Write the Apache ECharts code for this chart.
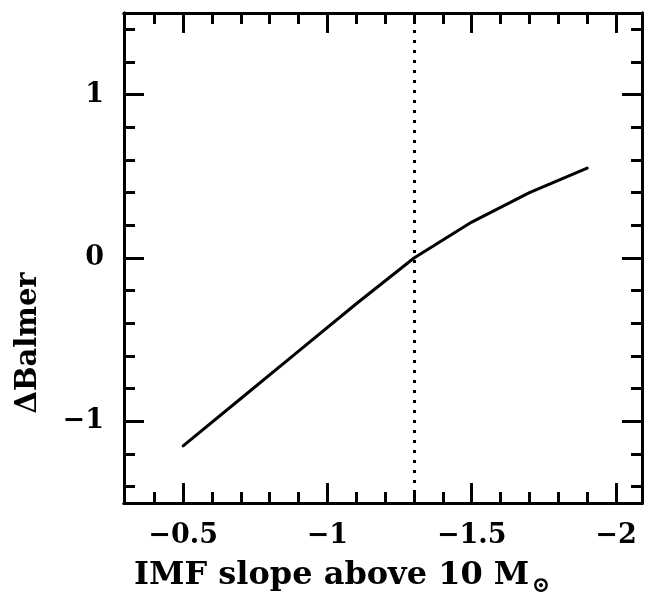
<!DOCTYPE html>
<html>
<head>
<meta charset="utf-8">
<script src="https://cdn.jsdelivr.net/npm/echarts@6/dist/echarts.min.js"></script>
<style>
  html, body { margin: 0; padding: 0; background: #fff; }
  #chart { width: 645px; height: 593px; }
</style>
</head>
<body>
<div id="chart"></div>
<script>
// IMF slope above 10 Msun vs. change in Balmer index
const imfSlope = [-0.5, -0.7, -0.9, -1.1, -1.3, -1.5, -1.7, -1.9];
const deltaBalmer = [-1.15, -0.86, -0.57, -0.28, 0.0, 0.22, 0.40, 0.55];

// reference slope (dotted vertical line)
const refSlope = -1.3;

// axis ranges and tick positions
const xRange = [-2.09, -0.295];
const yRange = [-1.5, 1.5];
const xMajorTicks = [-2, -1.5, -1, -0.5];
const xTickLabels = ['−2', '−1.5', '−1', '−0.5'];
const xMinorTicks = [-2.0, -1.9, -1.8, -1.7, -1.6, -1.5, -1.4, -1.3, -1.2, -1.1, -1.0, -0.9, -0.8, -0.7, -0.6, -0.5, -0.4];
const yMajorTicks = [-1, 0, 1];
const yTickLabels = ['−1', '0', '1'];
const yMinorTicks = [-1.4, -1.2, -1.0, -0.8, -0.6, -0.4, -0.2, 0, 0.2, 0.4, 0.6, 0.8, 1.0, 1.2, 1.4];

const FONT = 'DejaVu Serif';
const INK = '#000';

function labelFor(values, labels) {
  return function (v) {
    for (let i = 0; i < values.length; i++) {
      if (Math.abs(values[i] - v) < 1e-9) return labels[i];
    }
    return '';
  };
}

function xAxisDef(position, major, showLabel) {
  return {
    type: 'value', position: position, inverse: true,
    min: xRange[0], max: xRange[1],
    axisLine: { show: true, onZero: false, lineStyle: { color: INK, width: 3 } },
    axisTick: {
      show: true, inside: true, length: major ? 20 : 11,
      customValues: major ? xMajorTicks : xMinorTicks,
      lineStyle: { color: INK, width: 3 }
    },
    axisLabel: {
      show: showLabel, customValues: xMajorTicks,
      formatter: labelFor(xMajorTicks, xTickLabels),
      margin: 19, color: INK, fontFamily: FONT, fontWeight: 'bold', fontSize: 27
    },
    splitLine: { show: false }
  };
}

function yAxisDef(position, major, showLabel) {
  return {
    type: 'value', position: position,
    min: yRange[0], max: yRange[1],
    axisLine: { show: true, onZero: false, lineStyle: { color: INK, width: 3 } },
    axisTick: {
      show: true, inside: true, length: major ? 20 : 11,
      customValues: major ? yMajorTicks : yMinorTicks,
      lineStyle: { color: INK, width: 3 }
    },
    axisLabel: {
      show: showLabel, customValues: yMajorTicks,
      formatter: labelFor(yMajorTicks, yTickLabels),
      margin: 20, color: INK, fontFamily: FONT, fontWeight: 'bold', fontSize: 27
    },
    splitLine: { show: false }
  };
}

const chart = echarts.init(document.getElementById('chart'), null, { renderer: 'canvas' });

chart.setOption({
  animation: false,
  backgroundColor: '#fff',
  grid: { left: 124, top: 13, width: 518, height: 490, containLabel: false },
  xAxis: [
    xAxisDef('bottom', true, true),
    xAxisDef('bottom', false, false),
    xAxisDef('top', true, false),
    xAxisDef('top', false, false)
  ],
  yAxis: [
    yAxisDef('left', true, true),
    yAxisDef('left', false, false),
    yAxisDef('right', true, false),
    yAxisDef('right', false, false)
  ],
  series: [
    {
      type: 'line',
      xAxisIndex: 0, yAxisIndex: 0,
      data: imfSlope.map((x, i) => [x, deltaBalmer[i]]),
      showSymbol: false,
      lineStyle: { color: INK, width: 3, cap: 'round', join: 'round' },
      markLine: {
        silent: true, symbol: 'none',
        label: { show: false },
        lineStyle: { color: INK, width: 3, type: [3, 7] },
        data: [{ xAxis: refSlope }]
      }
    }
  ],
  graphic: [
    {
      type: 'text', x: 134, y: 576,
      style: {
        text: 'IMF slope above 10 M', align: 'left', verticalAlign: 'middle',
        fontFamily: FONT, fontWeight: 'bold', fontSize: 32, fill: INK
      }
    },
    {
      type: 'text', x: 541, y: 586,
      style: {
        text: '⊙', align: 'center', verticalAlign: 'middle',
        fontFamily: FONT, fontWeight: 'bold', fontSize: 22, fill: INK
      }
    },
    {
      type: 'text', x: 28, y: 343, rotation: Math.PI / 2,
      style: {
        text: 'ΔBalmer', align: 'center', verticalAlign: 'middle',
        fontFamily: FONT, fontWeight: 'bold', fontSize: 29, fill: INK
      }
    }
  ]
});
</script>
</body>
</html>
